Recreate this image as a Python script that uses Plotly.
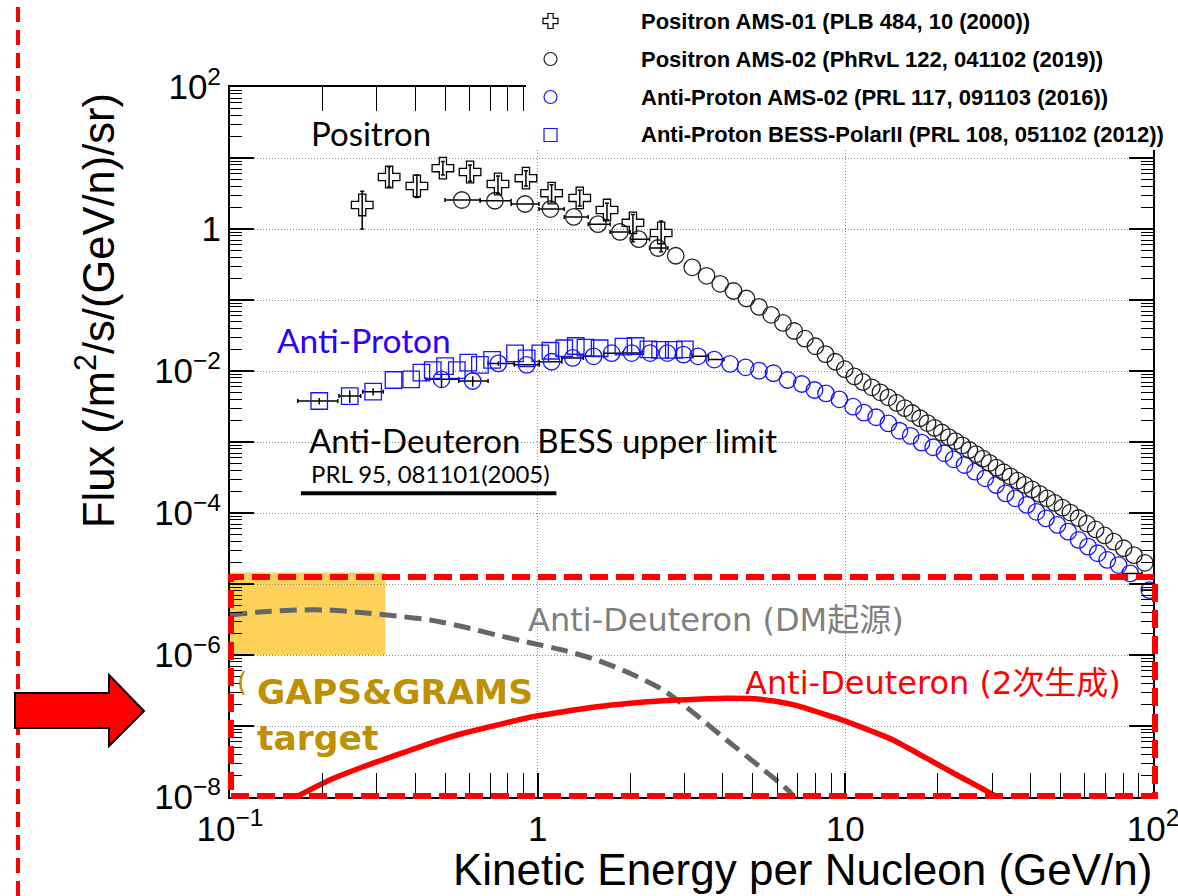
import numpy as np
import plotly.graph_objects as go

W, H = 1178, 896
X0, X1, Y0, Y1 = 230, 1153, 87, 797          # plotting frame in pixels
LOGX = (-1, 2)
LOGY = (-8, 2)
PX_PER_DEC = (X1 - X0) / (LOGX[1] - LOGX[0])

# ---------------- data ----------------
# Positron AMS-01 (PLB 484, 10 (2000))
ams01_e = [0.269, 0.329, 0.405, 0.492, 0.603, 0.743, 0.916, 1.11, 1.37, 1.68, 2.04, 2.52]
ams01_flux = [2.18, 5.4, 4.04, 7.2, 6.35, 4.3, 5.2, 3.2, 2.74, 1.85, 1.22, 0.88]
ams01_hi = [3.4, 7.5, 5.75, 8.9, 7.96, 5.6, 6.6, 4.2, 3.5, 2.3, 1.6, 1.3]
ams01_lo = [1.0, 3.9, 2.77, 5.75, 4.7, 3.2, 4.04, 2.4, 2.1, 1.35, 0.66, 0.48]

# Positron AMS-02 (PhRvL 122, 041102 (2019))
pos02_e = [0.567, 0.726, 0.91, 1.10, 1.31, 1.57, 1.85, 2.13, 2.46, 2.81,
           3.18, 3.54, 3.92, 4.33, 4.77, 5.24, 5.74, 6.27, 6.82, 7.39,
           7.99, 8.62, 9.28, 9.96, 10.7, 11.4, 12.2, 13.0, 13.8, 14.7,
           15.6, 16.5, 17.5, 18.5, 19.5, 20.6, 21.7, 22.8, 24.0, 25.3,
           26.6, 28.0, 29.4, 31.0, 32.7, 34.4, 36.3, 38.3, 40.5, 42.8,
           45.3, 47.9, 50.8, 53.9, 57.3, 61.0, 65.1, 69.6, 74.6, 80.3,
           86.7, 94.1]
pos02_flux = [2.56, 2.50, 2.25, 1.91, 1.48, 1.17, 0.91, 0.72, 0.54, 0.42,
              0.289, 0.219, 0.169, 0.134, 0.105, 0.080, 0.0619, 0.0475, 0.0366, 0.0285,
              0.0223, 0.0173, 0.0135, 0.0106, 0.0084, 0.00702, 0.00589, 0.00501, 0.00426, 0.00356,
              0.00300, 0.00256, 0.00216, 0.00185, 0.00158, 0.00136, 0.00117, 0.00103, 8.97e-4, 7.72e-4,
              6.75e-4, 5.83e-4, 5.08e-4, 4.36e-4, 3.75e-4, 3.29e-4, 2.86e-4, 2.49e-4, 2.15e-4, 1.86e-4,
              1.61e-4, 1.39e-4, 1.19e-4, 1.015e-4, 8.5e-5, 7.09e-5, 5.87e-5, 4.83e-5, 3.95e-5, 3.19e-5,
              2.55e-5, 1.99e-5]
pos02_edges = [0.5, 0.65, 0.82, 1.01, 1.22, 1.46, 1.72, 2.00, 2.31, 2.65, 3.00, 3.36, 3.73,
               4.12, 4.54, 5.00, 5.49, 6.00, 6.54, 7.10, 7.69, 8.30, 8.95, 9.62, 10.32, 11.04,
               11.80, 12.59, 13.41, 14.25, 15.14, 16.05, 17.00, 17.98, 18.99, 20.04, 21.13,
               22.25, 23.42, 24.62, 25.90, 27.25, 28.68, 30.21, 31.82, 33.53, 35.36, 37.31,
               39.39, 41.61, 44.00, 46.57, 49.33, 52.33, 55.58, 59.13, 63.02, 67.30, 72.05,
               77.37, 83.36, 90.19, 98.08]

# Anti-Proton AMS-02 (PRL 117, 091103 (2016))
pbar_e = [0.487, 0.615, 0.745, 0.921, 1.11, 1.30, 1.52, 1.74, 2.02, 2.32,
          2.64, 2.98, 3.32, 3.75, 4.22, 4.74, 5.24, 5.84, 6.49, 7.22,
          7.94, 8.65, 9.56, 10.6, 11.5, 12.6, 13.8, 15.0, 16.3, 17.7,
          19.3, 21.0, 22.5, 24.4, 26.4, 28.5, 30.9, 33.2, 35.7, 38.9,
          41.8, 44.9, 48.9, 53.0, 57.3, 61.5, 66.1, 71.0, 77.3, 84.3, 97.3]
pbar_flux = [0.00764, 0.00723, 0.0128, 0.0122, 0.0135, 0.0153, 0.0161, 0.0178, 0.0179, 0.0179,
             0.0179, 0.0170, 0.0161, 0.0145, 0.01256, 0.01127, 0.0101, 0.0093, 0.00747, 0.00656,
             0.0054, 0.00484, 0.00399, 0.00314, 0.00259, 0.00223, 0.00183, 0.00144, 0.00122, 9.8e-4,
             8.43e-4, 6.94e-4, 5.71e-4, 4.74e-4, 3.82e-4, 3.08e-4, 2.48e-4, 1.89e-4, 1.61e-4, 1.30e-4,
             1.04e-4, 8.4e-5, 6.8e-5, 5.46e-5, 4.17e-5, 3.36e-5, 2.71e-5, 2.18e-5, 1.85e-5, 1.41e-5, 8.2e-6]
pbar_edges = [0.433, 0.554, 0.690, 0.840, 1.012, 1.199, 1.408, 1.639, 1.892, 2.177, 2.483,
              2.821, 3.190, 3.590, 4.031, 4.513, 5.036, 5.600, 6.214, 6.879, 7.594, 8.369,
              9.205, 10.10, 11.10, 12.10, 13.19, 14.39, 15.69, 17.09, 18.59, 20.18, 21.88,
              23.78, 25.78, 27.88, 30.18, 32.58, 35.17, 37.97, 40.97, 44.17, 47.57, 51.27,
              55.17, 59.37, 63.87, 68.77, 73.97, 79.57, 92.07, 107.1]
pbar_yerr = [0.0019, 0.0012, 0.0009] + [0.0] * 48

# Anti-Proton BESS-PolarII (PRL 108, 051102 (2012))
bess_e = [0.195, 0.245, 0.292, 0.340, 0.388, 0.419, 0.456, 0.500, 0.546, 0.595,
          0.649, 0.711, 0.844, 0.921, 1.02, 1.10, 1.22, 1.33, 1.43, 1.59,
          1.90, 2.08, 2.29, 2.50, 2.77, 3.01]
bess_flux = [0.00378, 0.00444, 0.00512, 0.00747, 0.00763, 0.00946, 0.0103, 0.01175, 0.0103, 0.0131,
             0.0122, 0.0143, 0.0177, 0.0151, 0.0177, 0.0193, 0.0209, 0.0225, 0.0213, 0.0209,
             0.0220, 0.0225, 0.0202, 0.0198, 0.0198, 0.0202]
bess_lo = [0.166, 0.226, 0.270, 0.318, 0.365, 0.40, 0.435, 0.478, 0.522, 0.568,
           0.62, 0.68, 0.81, 0.88, 0.975, 1.05, 1.16, 1.27, 1.37, 1.52,
           1.82, 1.99, 2.19, 2.39, 2.65, 2.88]
bess_hi = [0.224, 0.266, 0.315, 0.364, 0.41, 0.44, 0.478, 0.523, 0.57, 0.622,
           0.678, 0.745, 0.88, 0.965, 1.065, 1.15, 1.275, 1.39, 1.49, 1.66,
           1.98, 2.17, 2.39, 2.61, 2.89, 3.14]
bess_yerr = [0.0004, 0.0009, 0.0006] + [0.0] * 23

# Anti-Deuteron BESS upper limit (PRL 95, 081101 (2005))
dbar_limit_e = [0.17, 1.15]
dbar_limit_flux = [1.9e-4, 1.9e-4]

# Anti-Deuteron from dark matter (DM起源)
dbar_dm_e = [0.1, 0.128, 0.165, 0.211, 0.271, 0.348, 0.447, 0.573, 0.736, 0.944,
             1.21, 1.56, 2.0, 2.56, 3.25, 4.11, 5.27, 6.6, 7.0]
dbar_dm_flux = [3.66e-6, 4.07e-6, 4.3e-6, 4.3e-6, 3.95e-6, 3.54e-6, 3.11e-6, 2.5e-6, 1.91e-6, 1.49e-6,
                1.17e-6, 8.5e-7, 5.5e-7, 3.21e-7, 1.47e-7, 6.35e-8, 2.67e-8, 1.18e-8, 8.0e-9]

# Secondary Anti-Deuteron (2次生成)
dbar_sec_e = [0.160, 0.211, 0.271, 0.348, 0.447, 0.573, 0.736, 0.944, 1.21, 1.56,
              2.0, 2.56, 3.29, 4.11, 5.27, 6.77, 8.69, 10.1, 12.3, 14.3,
              18.4, 23.6, 30.3, 32.0]
dbar_sec_flux = [9.5e-9, 1.74e-8, 2.67e-8, 3.91e-8, 5.7e-8, 7.9e-8, 1.03e-7, 1.33e-7, 1.59e-7, 1.87e-7,
                 2.09e-7, 2.27e-7, 2.38e-7, 2.45e-7, 2.38e-7, 2.0e-7, 1.43e-7, 1.15e-7, 8.3e-8, 6.35e-8,
                 3.5e-8, 1.93e-8, 1.07e-8, 9.0e-9]

# GAPS & GRAMS sensitivity band
gaps_e = [0.1, 0.32]
gaps_flux = [1.0e-6, 1.45e-5]

# axis ticks
x_ticks = [0.1, 1, 10, 100]
x_ticktext = ['10<sup>\u22121</sup>', '1', '10', '10<sup>2</sup>']
y_ticks = [10.0 ** k for k in range(-8, 3)]
y_label_vals = [10.0 ** k for k in range(-8, 3, 2)]
y_label_text = ['10<sup>\u22128</sup>', '10<sup>\u22126</sup>', '10<sup>\u22124</sup>',
                '10<sup>\u22122</sup>', '1', '10<sup>2</sup>']

# ---------------- helpers ----------------
def fx(px):
    return px / W


def fy(py):
    return 1 - py / H


def dx(v):
    return fx(X0 + (np.log10(v) - LOGX[0]) * PX_PER_DEC)


def dy(v):
    return fy(Y1 - (np.log10(v) - LOGY[0]) / (LOGY[1] - LOGY[0]) * (Y1 - Y0))


MARKER = 16.5
BLUE = '#1414ff'
GOLD = '#bf9000'


def binned(x, y, lo, hi, yerr=None):
    """Keep only the bins whose horizontal bar reaches outside the marker."""
    keep = [i for i in range(len(x))
            if max(np.log10(hi[i] / x[i]), np.log10(x[i] / lo[i])) * PX_PER_DEC > MARKER / 2 + 1]
    out = dict(x=[x[i] for i in keep], y=[y[i] for i in keep],
               error_x=dict(type='data', symmetric=False, color='black', thickness=1.5, width=2,
                            array=[hi[i] - x[i] for i in keep],
                            arrayminus=[x[i] - lo[i] for i in keep]))
    if yerr is not None:
        out['error_y'] = dict(type='data', symmetric=True, color='black', thickness=1.5, width=0,
                              array=[yerr[i] for i in keep])
    return out


fig = go.Figure()

# model curves
fig.add_trace(go.Scatter(x=dbar_dm_e, y=dbar_dm_flux, mode='lines',
                         line=dict(color='#666666', width=5, dash='17px,8px', shape='spline', smoothing=0.6)))
fig.add_trace(go.Scatter(x=dbar_sec_e, y=dbar_sec_flux, mode='lines',
                         line=dict(color='#ff0000', width=5.5, shape='spline', smoothing=0.6)))
fig.add_trace(go.Scatter(x=dbar_limit_e, y=dbar_limit_flux, mode='lines',
                         line=dict(color='black', width=4)))

# error bars (drawn under the markers)
hidden = dict(mode='markers', marker=dict(size=1, opacity=0), hoverinfo='skip', cliponaxis=False)
fig.add_trace(go.Scatter(**binned(pbar_e, pbar_flux, pbar_edges[:-1], pbar_edges[1:], pbar_yerr), **hidden))
fig.add_trace(go.Scatter(**binned(bess_e, bess_flux, bess_lo, bess_hi, bess_yerr), **hidden))
fig.add_trace(go.Scatter(**binned(pos02_e, pos02_flux, pos02_edges[:-1], pos02_edges[1:]), **hidden))

# measurements
fig.add_trace(go.Scatter(
    x=pbar_e, y=pbar_flux, mode='markers', cliponaxis=False,
    marker=dict(symbol='circle-open', size=MARKER, color=BLUE, line=dict(width=1.3))))
fig.add_trace(go.Scatter(
    x=bess_e, y=bess_flux, mode='markers',
    marker=dict(symbol='square-open', size=MARKER, color=BLUE, line=dict(width=1.3))))
fig.add_trace(go.Scatter(
    x=pos02_e, y=pos02_flux, mode='markers', cliponaxis=False,
    marker=dict(symbol='circle-open', size=MARKER, color='#202020', line=dict(width=1.3))))
fig.add_trace(go.Scatter(
    x=ams01_e, y=ams01_flux, mode='markers',
    marker=dict(symbol='cross-open', size=18, color='black', line=dict(width=1.3)),
    error_y=dict(type='data', symmetric=False, color='black', thickness=1.5, width=2,
                 array=[h - v for v, h in zip(ams01_flux, ams01_hi)],
                 arrayminus=[v - l for v, l in zip(ams01_flux, ams01_lo)])))

# invisible trace carrying the labelled y axis
fig.add_trace(go.Scatter(x=[1], y=[1], yaxis='y2', mode='markers',
                         marker=dict(opacity=0), hoverinfo='skip'))

# ---------------- axes ----------------
tickfont = dict(family='Liberation Sans, Arial, sans-serif', size=35, color='black')
common = dict(type='log', showline=True, linecolor='black', linewidth=2, mirror='allticks',
              ticks='inside', ticklen=24, tickwidth=1.5, tickcolor='black',
              tickmode='array', tickfont=tickfont,
              showgrid=True, gridcolor='#8c8c8c', gridwidth=1, griddash='1px,2px',
              zeroline=False, automargin=False)
fig.update_layout(
    xaxis=dict(common, range=list(LOGX), domain=[X0 / W, X1 / W],
               tickvals=x_ticks, ticktext=x_ticktext, ticklabelstandoff=0,
               ticklabeloverflow='allow',
               minor=dict(ticks='inside', ticklen=12, tickwidth=1, tickcolor='black',
                          tickmode='array', showgrid=False,
                          tickvals=[m * 10.0 ** k for k in range(-1, 2) for m in range(2, 10)])),
    yaxis=dict(common, range=list(LOGY), domain=[1 - Y1 / H, 1 - Y0 / H],
               tickvals=y_ticks, showticklabels=False,
               minor=dict(ticks='inside', ticklen=12, tickwidth=1, tickcolor='black',
                          tickmode='array', showgrid=False,
                          tickvals=[m * 10.0 ** k for k in range(-8, 2) for m in range(2, 10)])),
    yaxis2=dict(type='log', range=list(LOGY), overlaying='y', side='left', anchor='x',
                tickmode='array', tickvals=y_label_vals, ticktext=y_label_text,
                tickfont=tickfont, ticks='', showgrid=False, zeroline=False,
                showline=False, automargin=False, ticklabelstandoff=8),
)

# ---------------- shapes ----------------
shapes = []
# GAPS&GRAMS target region
shapes.append(dict(type='rect', xref='paper', yref='paper', layer='between',
                   x0=dx(gaps_e[0]), x1=dx(gaps_e[1]), y0=dy(gaps_flux[0]), y1=dy(gaps_flux[1]),
                   fillcolor='rgb(252,210,90)', line=dict(width=0)))
# white legend panel
shapes.append(dict(type='rect', xref='paper', yref='paper', layer='above',
                   x0=fx(526), x1=fx(1178), y0=fy(150), y1=fy(0),
                   fillcolor='white', line=dict(width=0)))
# legend symbols
lx = 550.5
cy = 21
a, b = 7.5, 2.6
cross = [(lx - b, cy - a), (lx + b, cy - a), (lx + b, cy - b), (lx + a, cy - b), (lx + a, cy + b),
         (lx + b, cy + b), (lx + b, cy + a), (lx - b, cy + a), (lx - b, cy + b), (lx - a, cy + b),
         (lx - a, cy - b), (lx - b, cy - b)]
shapes.append(dict(type='path', xref='paper', yref='paper', layer='above',
                   path='M' + ' L'.join('%.5f,%.5f' % (fx(p), fy(q)) for p, q in cross) + ' Z',
                   line=dict(color='black', width=1.2)))
r = 6.5
shapes.append(dict(type='circle', xref='paper', yref='paper', layer='above',
                   x0=fx(lx - r), x1=fx(lx + r), y0=fy(59 + r), y1=fy(59 - r),
                   line=dict(color='#202020', width=1.2)))
shapes.append(dict(type='circle', xref='paper', yref='paper', layer='above',
                   x0=fx(lx - r), x1=fx(lx + r), y0=fy(97 + r), y1=fy(97 - r),
                   line=dict(color=BLUE, width=1.2)))
shapes.append(dict(type='rect', xref='paper', yref='paper', layer='above',
                   x0=fx(lx - r), x1=fx(lx + r), y0=fy(135 + r), y1=fy(135 - r),
                   line=dict(color=BLUE, width=1.2)))
# red dashed frame around the anti-deuteron region
shapes.append(dict(type='rect', xref='paper', yref='paper', layer='above',
                   x0=fx(231), x1=fx(1155), y0=fy(796), y1=fy(577),
                   line=dict(color='#ff0000', width=6, dash='18px,8px')))
# red dashed line at the left edge
shapes.append(dict(type='line', xref='paper', yref='paper', layer='above',
                   x0=fx(18), x1=fx(18), y0=0, y1=1,
                   line=dict(color='#ff0000', width=4, dash='15px,8px')))
# arrow
arrow = [(15, 693), (109, 693), (109, 675), (144, 711), (109, 746), (109, 728), (15, 728)]
shapes.append(dict(type='path', xref='paper', yref='paper', layer='above',
                   path='M' + ' L'.join('%.5f,%.5f' % (fx(p), fy(q)) for p, q in arrow) + ' Z',
                   fillcolor='#ff0000', line=dict(color='black', width=2)))

# ---------------- text ----------------
ann = []


def text(s, x, y, size, color='black', family='Lato, Noto Sans CJK JP, sans-serif',
         xanchor='left', weight='normal', angle=0):
    ann.append(dict(text=s, x=fx(x), y=fy(y), xref='paper', yref='paper', showarrow=False,
                    xanchor=xanchor, yanchor='middle', textangle=angle, borderpad=0,
                    font=dict(family=family, size=size, color=color, weight=weight)))


text('Positron', 310, 133, 33)
text('Anti-Proton', 276, 340, 33.5, color='#2b00ff')
text('Anti-Deuteron\u00a0 BESS upper limit', 308, 440, 33)
text('PRL 95, 081101(2005)', 310, 473, 24)
dj = 'DejaVu Sans, Noto Sans CJK JP, sans-serif'
text('Anti-Deuteron (DM起源)', 527, 620, 32, color='#7f7f7f', family=dj)
text('Anti-Deuteron (2次生成)', 744, 683, 32, color='#ff0000', family=dj)
text('GAPS&GRAMS', 256, 692, 34.5, color=GOLD, family=dj, weight='bold')
text('target', 256, 738, 34.5, color=GOLD, family=dj, weight='bold')
text('(', 236, 682, 26, color=GOLD, family=dj)

helv = 'Liberation Sans, Arial, sans-serif'
text('Flux (/m<sup>2</sup>/s/(GeV/n)/sr)', 95, 311, 43.5, family=helv, xanchor='center', angle=-90)
text('Kinetic Energy per Nucleon (GeV/n)', 1153, 869, 44, family=helv, xanchor='right')

legend_rows = ['Positron AMS-01 (PLB 484, 10 (2000))',
               'Positron AMS-02 (PhRvL 122, 041102 (2019))',
               'Anti-Proton AMS-02 (PRL 117, 091103 (2016))',
               'Anti-Proton BESS-PolarII (PRL 108, 051102 (2012))']
for i, s in enumerate(legend_rows):
    text(s, 640, 21 + 38 * i, 22, family=helv, weight='bold')

fig.update_layout(width=W, height=H, margin=dict(l=0, r=0, t=0, b=0), template='none',
                  paper_bgcolor='white', plot_bgcolor='white', showlegend=False,
                  shapes=shapes, annotations=ann)

fig.write_html('out.html')
